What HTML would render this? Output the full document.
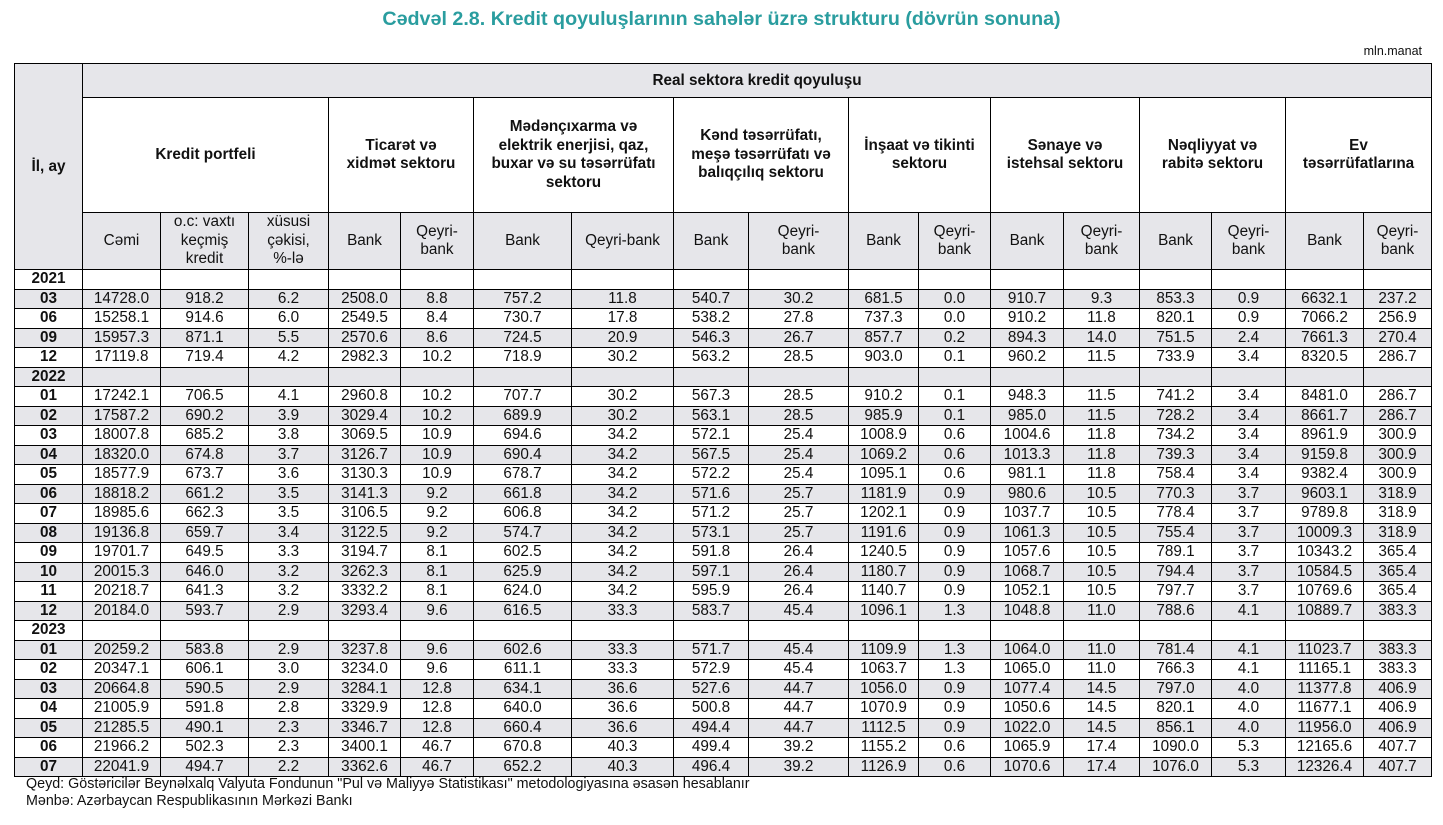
<!DOCTYPE html>
<html><head><meta charset="utf-8"><style>
body{margin:0;width:1443px;height:825px;background:#fff;font-family:"Liberation Sans",Arial,sans-serif;position:relative;overflow:hidden;color:#111}
.title{position:absolute;top:8px;left:0;width:1443px;text-align:center;color:#2a9d9f;font-weight:bold;font-size:19.7px}
.unit{position:absolute;top:44px;right:21px;font-size:12.5px}
table{position:absolute;left:14px;top:63px;border-collapse:collapse;table-layout:fixed;width:1417px}
td{border:1px solid #000;text-align:center;font-size:15.3px;padding:0;line-height:16px;overflow:hidden;white-space:nowrap}
.h td,td.h{font-weight:bold}
.g{background:#e6e6ea}
tr.d td{height:18.5px}
td.y{font-weight:bold}
.sub td{white-space:normal;line-height:18.5px}
.note{position:absolute;left:26px;font-size:14.3px}
</style></head><body>
<div class="title">Cədvəl 2.8. Kredit qoyuluşlarının sahələr üzrə strukturu (dövrün sonuna)</div>
<div class="unit">mln.manat</div>
<table>
<colgroup><col style="width:68px"><col style="width:78px"><col style="width:88px"><col style="width:80px"><col style="width:72px"><col style="width:73px"><col style="width:98px"><col style="width:102px"><col style="width:75px"><col style="width:100px"><col style="width:70px"><col style="width:72px"><col style="width:73px"><col style="width:76px"><col style="width:72px"><col style="width:74px"><col style="width:78px"><col style="width:68px"></colgroup>
<tr style="height:34px"><td rowspan="3" class="g h" style="font-weight:bold">İl, ay</td><td colspan="17" class="g" style="font-weight:bold">Real sektora kredit qoyuluşu</td></tr>
<tr style="height:115px" class="sub h"><td colspan="3">Kredit portfeli</td><td colspan="2">Ticarət və<br>xidmət sektoru</td><td colspan="2">Mədənçıxarma və<br>elektrik enerjisi, qaz,<br>buxar və su təsərrüfatı<br>sektoru</td><td colspan="2">Kənd təsərrüfatı,<br>meşə təsərrüfatı və<br>balıqçılıq sektoru</td><td colspan="2">İnşaat və tikinti<br>sektoru</td><td colspan="2">Sənaye və<br>istehsal sektoru</td><td colspan="2">Nəqliyyat və<br>rabitə sektoru</td><td colspan="2">Ev<br>təsərrüfatlarına</td></tr>
<tr style="height:57px" class="g sub"><td>Cəmi</td><td>o.c: vaxtı<br>keçmiş<br>kredit</td><td>xüsusi<br>çəkisi,<br>%-lə</td><td>Bank</td><td>Qeyri-<br>bank</td><td>Bank</td><td>Qeyri-bank</td><td>Bank</td><td>Qeyri-<br>bank</td><td>Bank</td><td>Qeyri-<br>bank</td><td>Bank</td><td>Qeyri-<br>bank</td><td>Bank</td><td>Qeyri-<br>bank</td><td>Bank</td><td>Qeyri-<br>bank</td></tr>
<tr class="d"><td class="y">2021</td><td></td><td></td><td></td><td></td><td></td><td></td><td></td><td></td><td></td><td></td><td></td><td></td><td></td><td></td><td></td><td></td><td></td></tr>
<tr class="d g"><td class="y">03</td><td>14728.0</td><td>918.2</td><td>6.2</td><td>2508.0</td><td>8.8</td><td>757.2</td><td>11.8</td><td>540.7</td><td>30.2</td><td>681.5</td><td>0.0</td><td>910.7</td><td>9.3</td><td>853.3</td><td>0.9</td><td>6632.1</td><td>237.2</td></tr>
<tr class="d"><td class="y">06</td><td>15258.1</td><td>914.6</td><td>6.0</td><td>2549.5</td><td>8.4</td><td>730.7</td><td>17.8</td><td>538.2</td><td>27.8</td><td>737.3</td><td>0.0</td><td>910.2</td><td>11.8</td><td>820.1</td><td>0.9</td><td>7066.2</td><td>256.9</td></tr>
<tr class="d g"><td class="y">09</td><td>15957.3</td><td>871.1</td><td>5.5</td><td>2570.6</td><td>8.6</td><td>724.5</td><td>20.9</td><td>546.3</td><td>26.7</td><td>857.7</td><td>0.2</td><td>894.3</td><td>14.0</td><td>751.5</td><td>2.4</td><td>7661.3</td><td>270.4</td></tr>
<tr class="d"><td class="y">12</td><td>17119.8</td><td>719.4</td><td>4.2</td><td>2982.3</td><td>10.2</td><td>718.9</td><td>30.2</td><td>563.2</td><td>28.5</td><td>903.0</td><td>0.1</td><td>960.2</td><td>11.5</td><td>733.9</td><td>3.4</td><td>8320.5</td><td>286.7</td></tr>
<tr class="d g"><td class="y">2022</td><td></td><td></td><td></td><td></td><td></td><td></td><td></td><td></td><td></td><td></td><td></td><td></td><td></td><td></td><td></td><td></td><td></td></tr>
<tr class="d"><td class="y">01</td><td>17242.1</td><td>706.5</td><td>4.1</td><td>2960.8</td><td>10.2</td><td>707.7</td><td>30.2</td><td>567.3</td><td>28.5</td><td>910.2</td><td>0.1</td><td>948.3</td><td>11.5</td><td>741.2</td><td>3.4</td><td>8481.0</td><td>286.7</td></tr>
<tr class="d g"><td class="y">02</td><td>17587.2</td><td>690.2</td><td>3.9</td><td>3029.4</td><td>10.2</td><td>689.9</td><td>30.2</td><td>563.1</td><td>28.5</td><td>985.9</td><td>0.1</td><td>985.0</td><td>11.5</td><td>728.2</td><td>3.4</td><td>8661.7</td><td>286.7</td></tr>
<tr class="d"><td class="y">03</td><td>18007.8</td><td>685.2</td><td>3.8</td><td>3069.5</td><td>10.9</td><td>694.6</td><td>34.2</td><td>572.1</td><td>25.4</td><td>1008.9</td><td>0.6</td><td>1004.6</td><td>11.8</td><td>734.2</td><td>3.4</td><td>8961.9</td><td>300.9</td></tr>
<tr class="d g"><td class="y">04</td><td>18320.0</td><td>674.8</td><td>3.7</td><td>3126.7</td><td>10.9</td><td>690.4</td><td>34.2</td><td>567.5</td><td>25.4</td><td>1069.2</td><td>0.6</td><td>1013.3</td><td>11.8</td><td>739.3</td><td>3.4</td><td>9159.8</td><td>300.9</td></tr>
<tr class="d"><td class="y">05</td><td>18577.9</td><td>673.7</td><td>3.6</td><td>3130.3</td><td>10.9</td><td>678.7</td><td>34.2</td><td>572.2</td><td>25.4</td><td>1095.1</td><td>0.6</td><td>981.1</td><td>11.8</td><td>758.4</td><td>3.4</td><td>9382.4</td><td>300.9</td></tr>
<tr class="d g"><td class="y">06</td><td>18818.2</td><td>661.2</td><td>3.5</td><td>3141.3</td><td>9.2</td><td>661.8</td><td>34.2</td><td>571.6</td><td>25.7</td><td>1181.9</td><td>0.9</td><td>980.6</td><td>10.5</td><td>770.3</td><td>3.7</td><td>9603.1</td><td>318.9</td></tr>
<tr class="d"><td class="y">07</td><td>18985.6</td><td>662.3</td><td>3.5</td><td>3106.5</td><td>9.2</td><td>606.8</td><td>34.2</td><td>571.2</td><td>25.7</td><td>1202.1</td><td>0.9</td><td>1037.7</td><td>10.5</td><td>778.4</td><td>3.7</td><td>9789.8</td><td>318.9</td></tr>
<tr class="d g"><td class="y">08</td><td>19136.8</td><td>659.7</td><td>3.4</td><td>3122.5</td><td>9.2</td><td>574.7</td><td>34.2</td><td>573.1</td><td>25.7</td><td>1191.6</td><td>0.9</td><td>1061.3</td><td>10.5</td><td>755.4</td><td>3.7</td><td>10009.3</td><td>318.9</td></tr>
<tr class="d"><td class="y">09</td><td>19701.7</td><td>649.5</td><td>3.3</td><td>3194.7</td><td>8.1</td><td>602.5</td><td>34.2</td><td>591.8</td><td>26.4</td><td>1240.5</td><td>0.9</td><td>1057.6</td><td>10.5</td><td>789.1</td><td>3.7</td><td>10343.2</td><td>365.4</td></tr>
<tr class="d g"><td class="y">10</td><td>20015.3</td><td>646.0</td><td>3.2</td><td>3262.3</td><td>8.1</td><td>625.9</td><td>34.2</td><td>597.1</td><td>26.4</td><td>1180.7</td><td>0.9</td><td>1068.7</td><td>10.5</td><td>794.4</td><td>3.7</td><td>10584.5</td><td>365.4</td></tr>
<tr class="d"><td class="y">11</td><td>20218.7</td><td>641.3</td><td>3.2</td><td>3332.2</td><td>8.1</td><td>624.0</td><td>34.2</td><td>595.9</td><td>26.4</td><td>1140.7</td><td>0.9</td><td>1052.1</td><td>10.5</td><td>797.7</td><td>3.7</td><td>10769.6</td><td>365.4</td></tr>
<tr class="d g"><td class="y">12</td><td>20184.0</td><td>593.7</td><td>2.9</td><td>3293.4</td><td>9.6</td><td>616.5</td><td>33.3</td><td>583.7</td><td>45.4</td><td>1096.1</td><td>1.3</td><td>1048.8</td><td>11.0</td><td>788.6</td><td>4.1</td><td>10889.7</td><td>383.3</td></tr>
<tr class="d"><td class="y">2023</td><td></td><td></td><td></td><td></td><td></td><td></td><td></td><td></td><td></td><td></td><td></td><td></td><td></td><td></td><td></td><td></td><td></td></tr>
<tr class="d g"><td class="y">01</td><td>20259.2</td><td>583.8</td><td>2.9</td><td>3237.8</td><td>9.6</td><td>602.6</td><td>33.3</td><td>571.7</td><td>45.4</td><td>1109.9</td><td>1.3</td><td>1064.0</td><td>11.0</td><td>781.4</td><td>4.1</td><td>11023.7</td><td>383.3</td></tr>
<tr class="d"><td class="y">02</td><td>20347.1</td><td>606.1</td><td>3.0</td><td>3234.0</td><td>9.6</td><td>611.1</td><td>33.3</td><td>572.9</td><td>45.4</td><td>1063.7</td><td>1.3</td><td>1065.0</td><td>11.0</td><td>766.3</td><td>4.1</td><td>11165.1</td><td>383.3</td></tr>
<tr class="d g"><td class="y">03</td><td>20664.8</td><td>590.5</td><td>2.9</td><td>3284.1</td><td>12.8</td><td>634.1</td><td>36.6</td><td>527.6</td><td>44.7</td><td>1056.0</td><td>0.9</td><td>1077.4</td><td>14.5</td><td>797.0</td><td>4.0</td><td>11377.8</td><td>406.9</td></tr>
<tr class="d"><td class="y">04</td><td>21005.9</td><td>591.8</td><td>2.8</td><td>3329.9</td><td>12.8</td><td>640.0</td><td>36.6</td><td>500.8</td><td>44.7</td><td>1070.9</td><td>0.9</td><td>1050.6</td><td>14.5</td><td>820.1</td><td>4.0</td><td>11677.1</td><td>406.9</td></tr>
<tr class="d g"><td class="y">05</td><td>21285.5</td><td>490.1</td><td>2.3</td><td>3346.7</td><td>12.8</td><td>660.4</td><td>36.6</td><td>494.4</td><td>44.7</td><td>1112.5</td><td>0.9</td><td>1022.0</td><td>14.5</td><td>856.1</td><td>4.0</td><td>11956.0</td><td>406.9</td></tr>
<tr class="d"><td class="y">06</td><td>21966.2</td><td>502.3</td><td>2.3</td><td>3400.1</td><td>46.7</td><td>670.8</td><td>40.3</td><td>499.4</td><td>39.2</td><td>1155.2</td><td>0.6</td><td>1065.9</td><td>17.4</td><td>1090.0</td><td>5.3</td><td>12165.6</td><td>407.7</td></tr>
<tr class="d g"><td class="y">07</td><td>22041.9</td><td>494.7</td><td>2.2</td><td>3362.6</td><td>46.7</td><td>652.2</td><td>40.3</td><td>496.4</td><td>39.2</td><td>1126.9</td><td>0.6</td><td>1070.6</td><td>17.4</td><td>1076.0</td><td>5.3</td><td>12326.4</td><td>407.7</td></tr>
</table>
<div class="note" style="top:776px">Qeyd: Göstəricilər Beynəlxalq Valyuta Fondunun "Pul və Maliyyə Statistikası" metodologiyasına əsasən hesablanır</div>
<div class="note" style="top:793px">Mənbə: Azərbaycan Respublikasının Mərkəzi Bankı</div>
</body></html>
